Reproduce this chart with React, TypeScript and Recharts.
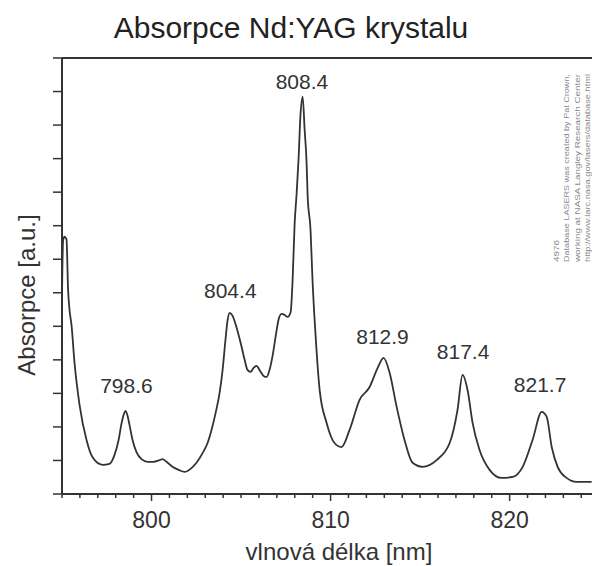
import { ComposedChart, Line, Scatter, XAxis, YAxis, ReferenceLine } from "recharts";

// Nd:YAG absorption spectrum
const wavelengths = [
  795.0, 795.06, 795.14, 795.25, 795.34, 795.42, 795.53, 795.7, 795.98, 796.37,
  796.7, 797.26, 797.65, 797.93, 798.16, 798.32, 798.46, 798.55, 798.66, 798.77,
  798.94, 799.16, 799.44, 799.78, 800.11, 800.45, 800.61, 800.84, 801.17, 801.51,
  801.84, 802.18, 802.51, 802.85, 803.13, 803.35, 803.58, 803.8, 803.97, 804.13,
  804.25, 804.36, 804.53, 804.69, 804.86, 805.03, 805.2, 805.36, 805.53, 805.7,
  805.87, 806.03, 806.26, 806.42, 806.59, 806.76, 806.93, 807.09, 807.26, 807.43,
  807.6, 807.77, 807.88, 807.99, 808.1, 808.21, 808.32, 808.44, 808.55, 808.66,
  808.72, 808.88, 808.99, 809.16, 809.39, 809.78, 810.22, 810.61, 811.06, 811.62,
  812.18, 812.63, 812.96, 813.3, 813.69, 814.13, 814.58, 815.14, 815.92, 816.65,
  817.09, 817.37, 817.65, 817.93, 818.32, 818.88, 819.55, 820.17, 820.73, 821.28,
  821.79, 822.07, 822.35, 822.68, 823.18, 823.74, 824.58,
];

const absorbance = [
  5.9, 7.55, 7.67, 7.6, 6.09, 5.49, 5.04, 3.91, 2.66, 1.61,
  1.1, 0.87, 0.9, 1.16, 1.61, 2.09, 2.39, 2.48, 2.33, 2.06,
  1.61, 1.25, 1.04, 0.96, 0.96, 1.01, 1.04, 0.96, 0.81, 0.72,
  0.66, 0.75, 0.93, 1.22, 1.52, 1.91, 2.42, 3.01, 3.7, 4.6,
  5.19, 5.4, 5.31, 5.07, 4.75, 4.39, 4.0, 3.7, 3.64, 3.76,
  3.82, 3.7, 3.52, 3.49, 3.7, 4.12, 4.69, 5.19, 5.37, 5.34,
  5.28, 5.43, 6.39, 8.03, 8.93, 9.97, 11.31, 11.85, 10.87, 9.88,
  8.87, 7.88, 6.39, 4.75, 3.1, 2.12, 1.52, 1.4, 1.91, 2.81,
  3.19, 3.76, 4.06, 3.61, 2.6, 1.61, 0.93, 0.81, 1.01, 1.52,
  2.51, 3.55, 3.1, 2.12, 1.31, 0.72, 0.48, 0.51, 0.81, 1.61,
  2.45, 2.3, 1.4, 0.81, 0.48, 0.36, 0.36,
];

// peak annotations: wavelength and the height its label sits at
const peakWavelengths = [798.6, 804.4, 808.4, 812.9, 817.4, 821.7];
const peakLabelLevels = [3.01, 5.85, 12.09, 4.48, 4.03, 3.04];

const xTicks = [
  795, 796, 797, 798, 799, 800, 801, 802, 803, 804, 805, 806, 807, 808, 809,
  810, 811, 812, 813, 814, 815, 816, 817, 818, 819, 820, 821, 822, 823, 824,
];
const xMajorTicks = [800, 810, 820];
const yTicks = [0, 1, 2, 3, 4, 5, 6, 7, 8, 9, 10, 11, 12, 13];

const noteLines = [
  "4976",
  "Database LASERS was created by Pat Crown,",
  "working at NASA Langley Research Center",
  "http://www.larc.nasa.gov/lasers/database.html",
];

const INK = "#333";
const FONT = "'Liberation Sans', Arial, sans-serif";

const spectrum = wavelengths.map((x, i) => ({ x, y: absorbance[i] }));
const peaks = peakWavelengths.map((x, i) => ({
  x,
  y: peakLabelLevels[i],
  label: x.toFixed(1),
}));

function XTick({ x, y, payload }: any) {
  const major = xMajorTicks.includes(payload.value);
  return (
    <g>
      <line x1={x} y1={y} x2={x} y2={y + (major ? 7 : 4)} stroke={INK} strokeWidth={1.5} />
      {major && (
        <text x={x} y={y + 34} textAnchor="middle" fontSize={23} fill={INK} fontFamily={FONT}>
          {payload.value}
        </text>
      )}
    </g>
  );
}

function YTick({ x, y }: any) {
  return <line x1={x} y1={y} x2={x - 9} y2={y} stroke={INK} strokeWidth={1.5} />;
}

function PeakLabel({ cx, cy, payload }: any) {
  return (
    <text x={cx} y={cy} textAnchor="middle" fontSize={21} fill={INK} fontFamily={FONT}>
      {payload.label}
    </text>
  );
}

export default function App() {
  return (
    <div style={{ position: "absolute", left: 0, top: 0, width: 592, height: 566, background: "#fff" }}>
      <ComposedChart
        width={592}
        height={566}
        margin={{ top: 58, right: 0, bottom: 0, left: 0 }}
      >
        <XAxis
          dataKey="x"
          type="number"
          domain={[795, 824.6]}
          allowDataOverflow
          ticks={xTicks}
          interval={0}
          tickSize={0}
          tickMargin={0}
          tickLine={false}
          tick={<XTick />}
          height={72}
          axisLine={{ stroke: INK, strokeWidth: 2 }}
        />
        <YAxis
          type="number"
          domain={[0, 13]}
          allowDataOverflow
          ticks={yTicks}
          interval={0}
          tickSize={0}
          tickMargin={0}
          tickLine={false}
          tick={<YTick />}
          width={62}
          axisLine={{ stroke: INK, strokeWidth: 2 }}
        />
        <ReferenceLine y={13} stroke={INK} strokeWidth={2} ifOverflow="visible" />
        <Line
          data={spectrum}
          dataKey="y"
          type="monotone"
          stroke={INK}
          strokeWidth={1.8}
          dot={false}
          activeDot={false}
          isAnimationActive={false}
        />
        <Scatter data={peaks} dataKey="y" shape={<PeakLabel />} isAnimationActive={false} />

        <text x={291} y={38} textAnchor="middle" fontSize={30} fill="#222" fontFamily={FONT}>
          Absorpce Nd:YAG krystalu
        </text>
        <text x={339} y={560} textAnchor="middle" fontSize={24} fill={INK} fontFamily={FONT}>
          vlnová délka [nm]
        </text>
        <text
          x={35}
          y={295}
          textAnchor="middle"
          fontSize={24}
          fill={INK}
          fontFamily={FONT}
          transform="rotate(-90 35 295)"
        >
          Absorpce [a.u.]
        </text>
        {noteLines.map((line, i) => {
          const lx = [559, 569, 580, 590][i];
          return (
            <text
              key={line}
              x={lx}
              y={262}
              fontSize={7}
              fill="#888"
              fontFamily={FONT}
              transform={`rotate(-90 ${lx} 262)`}
              textLength={i === 0 ? 22 : 188}
              lengthAdjust="spacingAndGlyphs"
            >
              {line}
            </text>
          );
        })}
      </ComposedChart>
    </div>
  );
}
